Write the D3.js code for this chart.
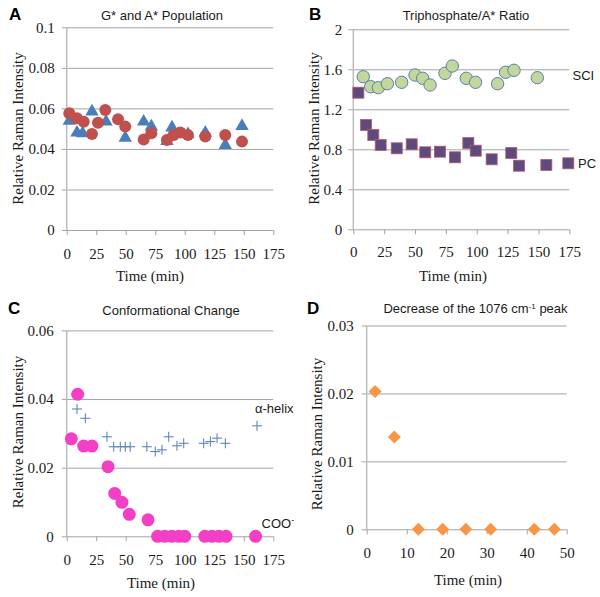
<!DOCTYPE html>
<html>
<head>
<meta charset="utf-8">
<script src="https://cdn.jsdelivr.net/npm/d3@7"></script>
<style>
  html, body { margin: 0; padding: 0; background: #ffffff; }
  svg { display: block; }
</style>
</head>
<body>
<svg id="chart" width="600" height="597"></svg>
<script>
// ---------- DATA ----------
const timeTicks175 = [0, 25, 50, 75, 100, 125, 150, 175];
const timeTicks50 = [0, 10, 20, 30, 40, 50];
const yTicksA = [0, 0.02, 0.04, 0.06, 0.08, 0.1];
const yTicksB = [0, 0.4, 0.8, 1.2, 1.6, 2];
const yTicksC = [0, 0.02, 0.04, 0.06];
const yTicksD = [0, 0.01, 0.02, 0.03];

// Panel A: G* and A* Population
const popCircleTime = [2.2, 8.7, 14.4, 21.4, 26.5, 32.7, 43.5, 49.6, 65.2, 71.7, 84.9, 90.6, 96.2, 102.7, 117.4, 134.3, 148.5];
const popCircleVal  = [0.0576, 0.0551, 0.0534, 0.0474, 0.0529, 0.0592, 0.0546, 0.0510, 0.0447, 0.0477, 0.0444, 0.0469, 0.0481, 0.0469, 0.0461, 0.0469, 0.0436];
const popTriTime = [2.2, 8.7, 13.5, 21.4, 33.3, 49.6, 65.2, 71.7, 84.9, 89.2, 102.7, 117.4, 134.3, 148.5];
const popTriVal  = [0.0543, 0.0485, 0.0482, 0.0589, 0.0539, 0.0460, 0.0539, 0.0515, 0.0444, 0.0510, 0.0477, 0.0485, 0.0424, 0.0518];

// Panel B: Triphosphate/A* Ratio
const sciTime = [8.1, 14.1, 20.3, 27.6, 39.2, 50.0, 56.2, 62.2, 74.3, 80.2, 91.5, 99.0, 116.9, 123.4, 130.2, 149.1];
const sciVal  = [1.526, 1.426, 1.416, 1.456, 1.47, 1.543, 1.51, 1.443, 1.56, 1.633, 1.51, 1.47, 1.456, 1.57, 1.59, 1.516];
const pcTime = [4.1, 10.3, 16.2, 22.2, 35.2, 47.3, 58.3, 70.2, 82.4, 93.2, 99.2, 112.1, 128.0, 134.3, 156.4, 174.2];
const pcVal  = [1.366, 1.043, 0.943, 0.843, 0.81, 0.85, 0.77, 0.776, 0.72, 0.863, 0.786, 0.70, 0.763, 0.636, 0.643, 0.66];

// Panel C: Conformational Change
const helixTime = [8.7, 15.8, 34.1, 39.8, 45.4, 49.6, 53.8, 67.9, 75.0, 80.7, 86.4, 93.4, 99.1, 116.0, 121.7, 127.4, 134.4, 161.2];
const helixVal  = [0.0371, 0.0344, 0.0290, 0.0261, 0.0261, 0.0261, 0.0261, 0.0261, 0.0247, 0.0252, 0.0290, 0.0264, 0.0271, 0.0271, 0.0276, 0.0286, 0.0271, 0.0322];
const cooTime = [3.9, 9.3, 14.4, 21.4, 35.0, 40.7, 46.8, 53.0, 68.9, 77, 83, 89, 95, 100, 117, 123, 129, 135, 160];
const cooVal  = [0.0284, 0.0414, 0.0263, 0.0263, 0.0203, 0.0125, 0.0099, 0.0064, 0.0048, 0, 0, 0, 0, 0, 0, 0, 0, 0, 0];

// Panel D: Decrease of the 1076 cm-1 peak
const peakTime = [2.1, 6.9, 12.9, 19.0, 24.8, 31.0, 41.9, 46.9];
const peakVal  = [0.0203, 0.0136, 0, 0, 0, 0, 0, 0];

// ---------- DRAWING ----------
const svg = d3.select("#chart");
svg.append("rect").attr("width", 600).attr("height", 597).attr("fill", "#ffffff");

const SERIF = "'Liberation Serif', 'Times New Roman', serif";
const SANS = "'Liberation Sans', Arial, sans-serif";
const GRID = "#a3a3a3";
const AXIS = "#bdbdbd";
const TEXT = "#1a1a1a";

function panel(cfg) {
  const x = d3.scaleLinear().domain(cfg.xd).range([cfg.l, cfg.r]);
  const y = d3.scaleLinear().domain(cfg.yd).range([cfg.b, cfg.t]);
  const g = svg.append("g");

  const ya = g.append("g").attr("transform", `translate(${cfg.l},0)`)
    .call(d3.axisLeft(y).tickValues(cfg.yt).tickFormat(d => String(d))
      .tickSizeInner(-(cfg.r - cfg.l)).tickSizeOuter(0).tickPadding(cfg.yPad));
  ya.select(".domain").remove();
  ya.selectAll(".tick line").attr("x1", -5).attr("stroke", GRID).attr("stroke-width", 1);
  ya.selectAll(".tick text").attr("font-family", SERIF).attr("font-size", 15).attr("fill", TEXT);

  const xa = g.append("g").attr("transform", `translate(0,${cfg.b})`)
    .call(d3.axisBottom(x).tickValues(cfg.xt).tickFormat(d => String(d))
      .tickSizeInner(5).tickSizeOuter(0).tickPadding(cfg.xPad));
  xa.select(".domain").remove();
  xa.selectAll(".tick line").attr("stroke", GRID);
  xa.selectAll(".tick text").attr("font-family", SERIF).attr("font-size", 15).attr("fill", TEXT);

  // vertical axis line
  g.append("line")
    .attr("x1", cfg.l).attr("x2", cfg.l)
    .attr("y1", y(cfg.yd[1])).attr("y2", y(cfg.yd[0]))
    .attr("stroke", AXIS).attr("stroke-width", 1.5);

  // panel letter
  g.append("text").attr("x", cfg.letterX).attr("y", cfg.letterY)
    .attr("font-family", SANS).attr("font-weight", "bold").attr("font-size", 17)
    .attr("fill", "#000").text(cfg.letter);

  // title
  const tt = g.append("text").attr("x", cfg.titleX).attr("y", cfg.titleY)
    .attr("text-anchor", "middle").attr("font-family", SANS).attr("font-size", 13)
    .attr("fill", TEXT);
  if (cfg.titleParts) {
    cfg.titleParts.forEach(p => {
      const ts = tt.append("tspan").text(p.t);
      if (p.sup) ts.attr("baseline-shift", "super").attr("font-size", 8);
    });
  } else tt.text(cfg.title);

  // y label
  g.append("text")
    .attr("transform", `translate(${cfg.ylX},${cfg.ylY}) rotate(-90)`)
    .attr("text-anchor", "middle").attr("dy", "0.35em")
    .attr("font-family", SERIF).attr("font-size", 15).attr("fill", TEXT)
    .text("Relative Raman Intensity");

  // x label
  g.append("text").attr("x", cfg.xlX).attr("y", cfg.xlY)
    .attr("text-anchor", "middle")
    .attr("font-family", SERIF).attr("font-size", 15).attr("fill", TEXT)
    .text("Time (min)");

  return { g, x, y };
}

function pts(tArr, vArr) { return tArr.map((t, i) => ({ t, v: vArr[i] })); }

// ----- Panel A -----
{
  const { g, x, y } = panel({
    l: 66.7, r: 273.3, t: 27.3, b: 230, xd: [0, 175], yd: [0, 0.1],
    xt: timeTicks175, yt: yTicksA, yPad: 12, xPad: 13,
    letter: "A", letterX: 9, letterY: 20, title: "G* and A* Population", titleX: 162, titleY: 20,
    ylX: 17.5, ylY: 128.5, xlX: 150, xlY: 281
  });
  g.append("g").selectAll("path").data(pts(popTriTime, popTriVal)).join("path")
    .attr("transform", d => `translate(${x(d.t)},${y(d.v) + 1})`)
    .attr("d", d3.symbol(d3.symbolTriangle, 78))
    .attr("fill", "#4a7ebb");
  g.append("g").selectAll("circle").data(pts(popCircleTime, popCircleVal)).join("circle")
    .attr("cx", d => x(d.t)).attr("cy", d => y(d.v)).attr("r", 6)
    .attr("fill", "#c0504d");
}

// ----- Panel B -----
{
  const { g, x, y } = panel({
    l: 353.3, r: 569.3, t: 29.3, b: 229.3, xd: [0, 175], yd: [0, 2],
    xt: timeTicks175, yt: yTicksB, yPad: 11, xPad: 12,
    letter: "B", letterX: 309, letterY: 20, title: "Triphosphate/A* Ratio", titleX: 466, titleY: 20,
    ylX: 314, ylY: 128.5, xlX: 453, xlY: 281
  });
  g.append("g").selectAll("circle").data(pts(sciTime, sciVal)).join("circle")
    .attr("cx", d => x(d.t)).attr("cy", d => y(d.v)).attr("r", 6.2)
    .attr("fill", "#c3d69b").attr("stroke", "#5b80ad").attr("stroke-width", 1);
  g.append("g").selectAll("rect").data(pts(pcTime, pcVal)).join("rect")
    .attr("x", d => x(d.t) - 5.5).attr("y", d => y(d.v) - 5.5)
    .attr("width", 11).attr("height", 11)
    .attr("fill", "#5f4a7d").attr("stroke", "#b35a6e").attr("stroke-width", 0.8);
  g.append("text").attr("x", 572.5).attr("y", 80).attr("font-family", SANS).attr("font-size", 13)
    .attr("fill", TEXT).text("SCI");
  g.append("text").attr("x", 578).attr("y", 167.5).attr("font-family", SANS).attr("font-size", 13)
    .attr("fill", TEXT).text("PC");
}

// ----- Panel C -----
{
  const { g, x, y } = panel({
    l: 66.7, r: 273.3, t: 330.4, b: 536.3, xd: [0, 175], yd: [0, 0.06],
    xt: timeTicks175, yt: yTicksC, yPad: 13, xPad: 13,
    letter: "C", letterX: 8, letterY: 314, title: "Conformational Change", titleX: 171, titleY: 315,
    ylX: 17.5, ylY: 432, xlX: 161, xlY: 588
  });
  g.append("g").selectAll("circle").data(pts(cooTime, cooVal)).join("circle")
    .attr("cx", d => x(d.t)).attr("cy", d => y(d.v)).attr("r", 6.5)
    .attr("fill", "#f23fc6");
  const cross = d3.symbol(d3.symbolCross);
  g.append("g").selectAll("g").data(pts(helixTime, helixVal)).join("g")
    .attr("transform", d => `translate(${x(d.t)},${y(d.v)})`)
    .each(function () {
      const s = d3.select(this);
      s.append("line").attr("x1", -5).attr("x2", 5).attr("y1", 0).attr("y2", 0);
      s.append("line").attr("x1", 0).attr("x2", 0).attr("y1", -5).attr("y2", 5);
    })
    .attr("stroke", "#5d86be").attr("stroke-width", 1.1);
  g.append("text").attr("x", 255).attr("y", 413).attr("font-family", SANS).attr("font-size", 13)
    .attr("fill", TEXT).text("α-helix");
  const coo = g.append("text").attr("x", 261.5).attr("y", 528).attr("font-family", SANS).attr("font-size", 13)
    .attr("fill", TEXT);
  coo.append("tspan").text("COO");
  coo.append("tspan").attr("baseline-shift", "super").attr("font-size", 9).text("-");
}

// ----- Panel D -----
{
  const { g, x, y } = panel({
    l: 366.7, r: 566.7, t: 325.5, b: 529.3, xd: [0, 50], yd: [0, 0.03],
    xt: timeTicks50, yt: yTicksD, yPad: 13, xPad: 13,
    letter: "D", letterX: 307, letterY: 314,
    titleParts: [{ t: "Decrease of the 1076 cm" }, { t: "-1", sup: true }, { t: " peak" }],
    titleX: 475.5, titleY: 313,
    ylX: 316.5, ylY: 434, xlX: 468, xlY: 585
  });
  g.append("g").selectAll("rect").data(pts(peakTime, peakVal)).join("rect")
    .attr("x", -4.6).attr("y", -4.6).attr("width", 9.2).attr("height", 9.2)
    .attr("transform", d => `translate(${x(d.t)},${y(d.v)}) rotate(45)`)
    .attr("fill", "#f79646");
}
</script>
</body>
</html>
